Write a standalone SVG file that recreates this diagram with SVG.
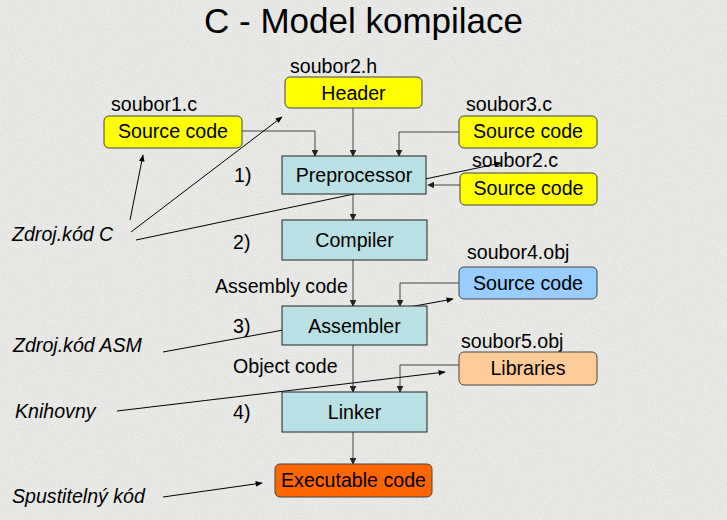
<svg xmlns="http://www.w3.org/2000/svg" width="727" height="520" viewBox="0 0 727 520">
  <defs>
    <filter id="grain" x="0" y="0" width="100%" height="100%">
      <feTurbulence type="fractalNoise" baseFrequency="0.9" numOctaves="2" seed="3" result="n"/>
      <feColorMatrix in="n" type="matrix" values="0 0 0 0 0.55  0 0 0 0 0.55  0 0 0 0 0.53  0 0 0 -1.1 0.75"/>
    </filter>
    <marker id="tip" viewBox="0 0 10 10" refX="9" refY="5" markerWidth="7" markerHeight="7" markerUnits="userSpaceOnUse" orient="auto">
      <path d="M0,0 L10,5 L0,10 Z" fill="#222"/>
    </marker>
    <marker id="tipThin" viewBox="0 0 10 10" refX="9" refY="5" markerWidth="9" markerHeight="7" markerUnits="userSpaceOnUse" orient="auto">
      <path d="M0,1 L10,5 L0,9 Z" fill="#000"/>
    </marker>
    <style>
      text { font-family: "Liberation Sans", Arial, sans-serif; fill: #000; }
      .title { font-size: 35px; text-anchor: middle; }
      .lbl { font-size: 19.6px; }
      .note { font-size: 19.6px; font-style: italic; }
      .in { font-size: 19.6px; text-anchor: middle; }
      .step { fill: #b9e0e3; stroke: #222; stroke-width: 1; }
      .yel { fill: #ffff00; stroke: #444; stroke-width: 1; }
      .blue { fill: #99ccff; stroke: #444; stroke-width: 1; }
      .orange { fill: #ffcc99; stroke: #444; stroke-width: 1; }
      .exe { fill: #ff6600; stroke: #444; stroke-width: 1; }
      .flow { fill: none; stroke: #444; stroke-width: 1; marker-end: url(#tip); }
      .ptr { fill: none; stroke: #000; stroke-width: 1; marker-end: url(#tipThin); }
    </style>
  </defs>

  <!-- slide background -->
  <rect width="727" height="520" fill="#ececea"/>
  <rect width="727" height="520" filter="url(#grain)" opacity="0.6"/>

  <text class="title" x="363.5" y="33">C - Model kompilace</text>

  <!-- connectors -->
  <g id="connectors">
    <path class="flow" d="M242,131 H315 V156"/>
    <path class="flow" d="M353,108 V156"/>
    <path class="flow" d="M459,132 H399 V156"/>
    <path class="flow" d="M460,185 H428"/>
    <path class="flow" d="M353,194 V220"/>
    <path class="flow" d="M353,260 V306"/>
    <path class="flow" d="M459,283 H400 V306"/>
    <path class="flow" d="M353,345 V392"/>
    <path class="flow" d="M459,365 H400 V392"/>
    <path class="flow" d="M353,432 V464"/>

    <path class="ptr" d="M130,220 L143,155"/>
    <path class="ptr" d="M131,232 L282,117"/>
    <path class="ptr" d="M136,240 L501,163"/>
    <path class="ptr" d="M163,352 L453,299"/>
    <path class="ptr" d="M117,411 L445,372"/>
    <path class="ptr" d="M163,497 L262,483"/>
  </g>

  <!-- input files -->
  <g id="header">
    <text class="lbl" x="290" y="73">soubor2.h</text>
    <rect class="yel" x="285" y="77" width="137" height="31" rx="5"/>
    <text class="in" x="353.5" y="100">Header</text>
  </g>
  <g id="source1">
    <text class="lbl" x="111" y="111">soubor1.c</text>
    <rect class="yel" x="104" y="116" width="138" height="32" rx="5"/>
    <text class="in" x="173" y="138">Source code</text>
  </g>
  <g id="source3">
    <text class="lbl" x="466" y="111">soubor3.c</text>
    <rect class="yel" x="459" y="116" width="138" height="32" rx="5"/>
    <text class="in" x="528" y="138">Source code</text>
  </g>
  <g id="source2">
    <text class="lbl" x="472" y="167">soubor2.c</text>
    <rect class="yel" x="460" y="173" width="137" height="32" rx="5"/>
    <text class="in" x="528.5" y="195">Source code</text>
  </g>
  <g id="object4">
    <text class="lbl" x="467" y="259">soubor4.obj</text>
    <rect class="blue" x="459" y="267" width="138" height="32" rx="5"/>
    <text class="in" x="528" y="290">Source code</text>
  </g>
  <g id="libraries">
    <text class="lbl" x="461" y="348">soubor5.obj</text>
    <rect class="orange" x="459" y="352" width="138" height="33" rx="5"/>
    <text class="in" x="528" y="375">Libraries</text>
  </g>

  <!-- compilation stages -->
  <g id="preprocessor">
    <rect class="step" x="282" y="156" width="144" height="38"/>
    <text class="in" x="354" y="182">Preprocessor</text>
  </g>
  <g id="compiler">
    <rect class="step" x="282" y="220" width="145" height="40"/>
    <text class="in" x="354.5" y="247">Compiler</text>
  </g>
  <g id="assembler">
    <rect class="step" x="282" y="306" width="145" height="39"/>
    <text class="in" x="354.5" y="333">Assembler</text>
  </g>
  <g id="linker">
    <rect class="step" x="282" y="392" width="145" height="40"/>
    <text class="in" x="354.5" y="419">Linker</text>
  </g>
  <g id="executable">
    <rect class="exe" x="275" y="464" width="157" height="33" rx="5"/>
    <text class="in" x="353.5" y="487">Executable code</text>
  </g>

  <!-- step numbers and intermediate products -->
  <g id="annotations">
    <text class="lbl" x="234" y="182">1)</text>
    <text class="lbl" x="233" y="249">2)</text>
    <text class="lbl" x="215" y="293">Assembly code</text>
    <text class="lbl" x="233" y="333">3)</text>
    <text class="lbl" x="233" y="373">Object code</text>
    <text class="lbl" x="233" y="419">4)</text>
  </g>

  <!-- side notes -->
  <g id="notes">
    <text class="note" x="12" y="241">Zdroj.kód C</text>
    <text class="note" x="13" y="352">Zdroj.kód ASM</text>
    <text class="note" x="15" y="418">Knihovny</text>
    <text class="note" x="12" y="503">Spustitelný kód</text>
  </g>
</svg>
